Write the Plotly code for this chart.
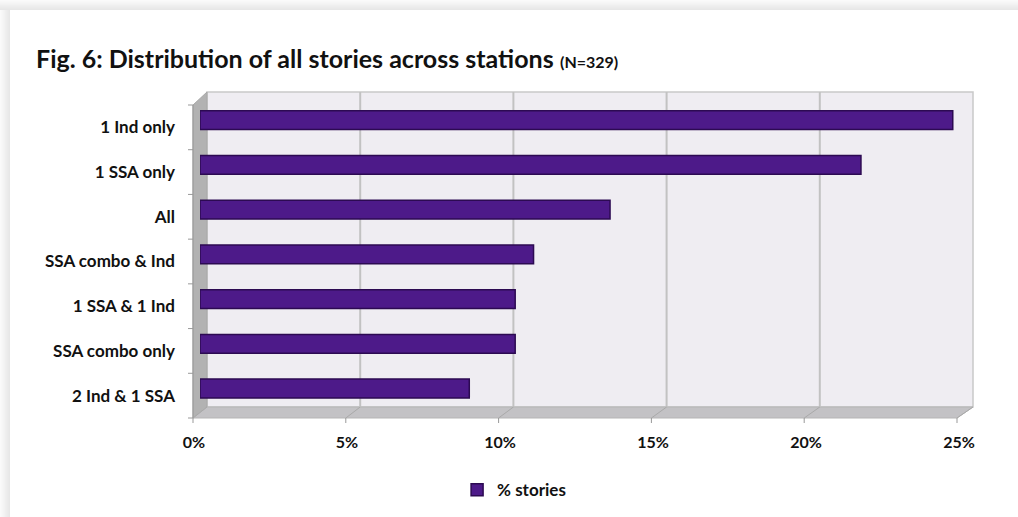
import plotly.graph_objects as go

categories = ["1 Ind only", "1 SSA only", "All", "SSA combo & Ind",
              "1 SSA & 1 Ind", "SSA combo only", "2 Ind & 1 SSA"]
pct_stories = [24.6, 21.6, 13.4, 10.9, 10.3, 10.3, 8.8]
x_ticks = [0, 5, 10, 15, 20, 25]
x_tick_labels = ["0%", "5%", "10%", "15%", "20%", "25%"]

W, H = 1018, 517
L, R, T, B = 200, 965, 105, 418  # plot area in pixels

def px(x):
    return (x - L) / (R - L)

def py(y):
    return 1 - (y - T) / (B - T)

FONT = "Lato"
shapes = []

# card shadow (top & left)
for i in range(10):
    g = 250 - int(i * 2.2)
    c = f"rgb({g},{g},{g})"
    shapes.append(dict(type="rect", xref="paper", yref="paper",
                       x0=px(0), x1=px(W), y0=py(i), y1=py(i + 1),
                       fillcolor=c, line=dict(width=0), layer="below"))
    shapes.append(dict(type="rect", xref="paper", yref="paper",
                       x0=px(i), x1=px(i + 1), y0=py(10), y1=py(H),
                       fillcolor=c, line=dict(width=0), layer="below"))

# back wall
bx0, bx1, by0, by1 = 207, 973, 92, 407
shapes.append(dict(type="rect", xref="paper", yref="paper",
                   x0=px(bx0), x1=px(bx1), y0=py(by0), y1=py(by1),
                   fillcolor="#efedf2", line=dict(color="#c9c9c9", width=1.5),
                   layer="below"))
# left wall
fx0, fx1 = 193, 957
shapes.append(dict(type="path", xref="paper", yref="paper",
                   path=f"M {px(fx0)},{py(105)} L {px(bx0)},{py(by0)} L {px(bx0)},{py(by1)} L {px(fx0)},{py(418)} Z",
                   fillcolor="#b2b2b2", line=dict(color="#a8a8a8", width=1), layer="below"))
# floor
shapes.append(dict(type="path", xref="paper", yref="paper",
                   path=f"M {px(fx0)},{py(418)} L {px(bx0)},{py(by1)} L {px(bx1)},{py(by1)} L {px(fx1)},{py(418)} Z",
                   fillcolor="#c3c2c5", line=dict(color="#b5b5b5", width=1), layer="below"))
# gridlines on the back wall + floor diagonals + bottom ticks
for k in range(len(x_ticks)):
    gx = bx0 + k * (bx1 - bx0) / 5
    fx = fx0 + k * (fx1 - fx0) / 5
    if 0 < k < 5:
        shapes.append(dict(type="line", xref="paper", yref="paper",
                           x0=px(gx), x1=px(gx), y0=py(by0), y1=py(by1),
                           line=dict(color="#c2c2c2", width=2), layer="below"))
    shapes.append(dict(type="line", xref="paper", yref="paper",
                       x0=px(fx), x1=px(gx), y0=py(418), y1=py(by1),
                       line=dict(color="#a9a9a9", width=1), layer="below"))
    shapes.append(dict(type="line", xref="paper", yref="paper",
                       x0=px(fx), x1=px(fx), y0=py(418), y1=py(423),
                       line=dict(color="#999999", width=1), layer="below"))
# left category ticks
n = len(categories)
for k in range(n + 1):
    ty = 105 + k * (418 - 105) / n
    shapes.append(dict(type="line", xref="paper", yref="paper",
                       x0=px(188), x1=px(193), y0=py(ty), y1=py(ty),
                       line=dict(color="#999999", width=1), layer="below"))
shapes.append(dict(type="line", xref="paper", yref="paper",
                   x0=px(193), x1=px(193), y0=py(105), y1=py(418),
                   line=dict(color="#999999", width=1), layer="below"))

fig = go.Figure()
fig.add_trace(go.Bar(
    y=categories, x=pct_stories, orientation="h", name="% stories",
    width=0.42, offset=-0.37,
    marker=dict(color="#4d1a89", line=dict(color="#2c0a52", width=1.5)),
))

fig.update_layout(
    width=W, height=H,
    margin=dict(l=L, r=W - R, t=T, b=H - B),
    paper_bgcolor="white", plot_bgcolor="rgba(0,0,0,0)",
    shapes=shapes,
    showlegend=True,
    legend=dict(orientation="h", xref="container", yref="container",
                x=0.505, y=0.052, xanchor="center", yanchor="middle",
                font=dict(family=FONT, size=17, color="#111111", weight="bold")),
    xaxis=dict(range=[0, 25], tickvals=x_ticks, ticktext=x_tick_labels,
               showgrid=False, zeroline=False, showline=False, ticks="",
               ticklabelshift=-6, ticklabelstandoff=13,
               tickfont=dict(family=FONT, size=16, color="#111111", weight="bold")),
    yaxis=dict(range=[n - 0.5, -0.5], showgrid=False, zeroline=False,
               showline=False, ticks="", ticklabelstandoff=24,
               tickfont=dict(family=FONT, size=17, color="#111111", weight="bold")),
    annotations=[dict(
        xref="paper", yref="paper", x=px(34), y=py(58),
        xanchor="left", yanchor="middle", showarrow=False,
        text="<b>Fig. 6: Distribution of all stories across stations</b> <b><span style='font-size:16px'>(N=329)</span></b>",
        font=dict(family=FONT, size=25, color="#111111"),
    )],
)

fig.write_html("out.html", config={"displayModeBar": False},
               post_script="document.body.style.margin='0';document.body.style.padding='0';")
